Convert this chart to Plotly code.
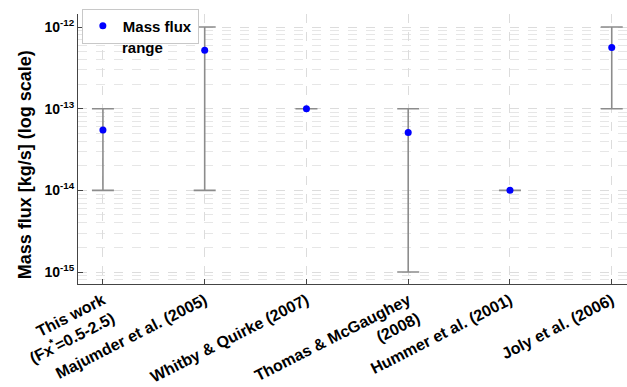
import plotly.graph_objects as go

categories = ["This work<br>(Fx<sup>*</sup>=0.5-2.5)", "Majumder et al. (2005)", "Whitby & Quirke (2007)",
              "Thomas & McGaughey<br>(2008)", "Hummer et al. (2001)", "Joly et al. (2006)"]
flux = [5.5e-14, 5.2e-13, 1.0e-13, 5.1e-14, 1.0e-14, 5.6e-13]
flux_low = [1e-14, 1e-14, 1.0e-13, 1e-15, 1.0e-14, 1e-13]
flux_high = [1e-13, 1e-12, 1.0e-13, 1e-13, 1.0e-14, 1e-12]
ytick_vals = [1e-15, 1e-14, 1e-13, 1e-12]
ytick_text = ["10<sup>-15</sup>", "10<sup>-14</sup>", "10<sup>-13</sup>", "10<sup>-12</sup>"]
minor_vals = [k * 10.0 ** e for e in range(-16, -11) for k in range(2, 10)]

xs = list(range(len(categories)))
err_plus = [h - f for h, f in zip(flux_high, flux)]
err_minus = [f - l for f, l in zip(flux, flux_low)]

fig = go.Figure()
fig.add_trace(go.Scatter(
    x=xs, y=flux, mode="markers", name="Mass flux",
    marker=dict(color="#0000ff", size=7),
    error_y=dict(type="data", symmetric=False, array=err_plus, arrayminus=err_minus,
                 color="#8c8c8c", thickness=1.6, width=11),
))

font_family = "Liberation Sans, Arial, sans-serif"
fig.update_layout(
    width=627, height=387,
    margin=dict(l=78, r=0, t=14, b=103),
    paper_bgcolor="white", plot_bgcolor="white",
    font=dict(family=font_family, color="black"),
    showlegend=True,
    legend=dict(x=0.007, y=1.02, xanchor="left", yanchor="top",
                bgcolor="white", bordercolor="#c8c8c8", borderwidth=1,
                font=dict(size=15, family=font_family, weight="bold"),
                itemwidth=30, tracegroupgap=0),
    annotations=[
        dict(text="range", xref="paper", yref="paper", x=0.118, y=0.876,
             xanchor="center", yanchor="middle", showarrow=False,
             font=dict(size=15, weight="bold", family=font_family)),
        dict(text="Mass flux [kg/s] (log scale)", xref="paper", yref="paper",
             x=(25 - 78) / 549, y=0.44, xanchor="center", yanchor="middle",
             textangle=-90, showarrow=False,
             font=dict(size=18, weight="bold", family=font_family)),
    ],
    xaxis=dict(
        range=[-0.245, 5.15],
        tickvals=xs, ticktext=categories,
        tickangle=-27,
        tickfont=dict(size=16, weight="bold"),
        automargin=False,
        showgrid=True, gridcolor="#dcdcdc", griddash="dash", gridwidth=1,
        showline=True, linecolor="#444444", linewidth=1,
        ticks="inside", ticklen=5, tickcolor="#444444",
        zeroline=False,
    ),
    yaxis=dict(
        type="log",
        range=[-15.147, -11.84],
        tickvals=ytick_vals, ticktext=ytick_text,
        tickfont=dict(size=14, weight="bold"),
        automargin=False,
        showgrid=True, gridcolor="#dcdcdc", griddash="dash", gridwidth=1,
        minor=dict(tickmode="array", tickvals=minor_vals, showgrid=True,
                   gridcolor="#e6e6e6", griddash="dash", gridwidth=1, ticks=""),
        showline=True, linecolor="#444444", linewidth=1,
        ticks="inside", ticklen=5, tickcolor="#444444",
        zeroline=False,
    ),
)

fig.write_html("out.html")
